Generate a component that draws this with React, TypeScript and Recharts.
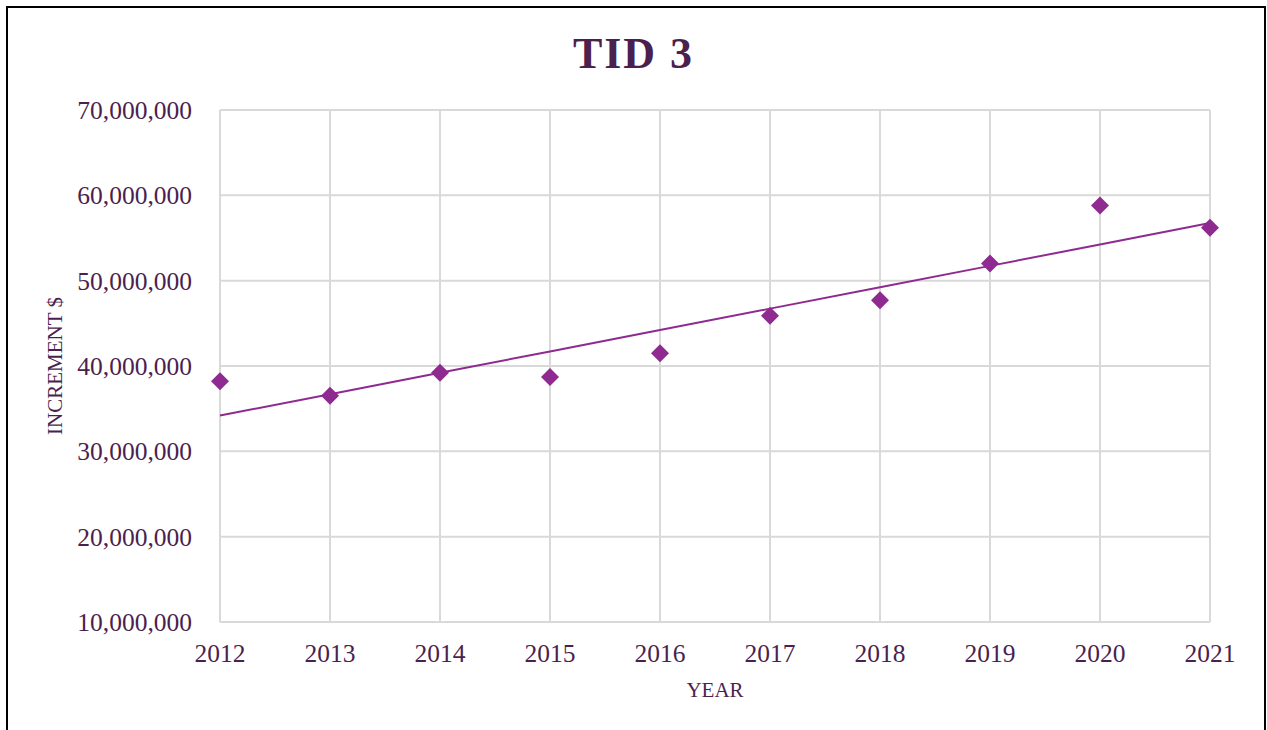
import { CartesianGrid, ComposedChart, Line, Scatter, XAxis, YAxis } from 'recharts'

const years = [2012, 2013, 2014, 2015, 2016, 2017, 2018, 2019, 2020, 2021]
const increment = [38.2, 36.5, 39.2, 38.7, 41.5, 45.9, 47.7, 52.0, 58.8, 56.2].map((v) => v * 1e6)
const yTicks = [10e6, 20e6, 30e6, 40e6, 50e6, 60e6, 70e6]

// linear trendline, least squares over the points (like Excel's)
const n = years.length
const mx = years.reduce((a, b) => a + b, 0) / n
const my = increment.reduce((a, b) => a + b, 0) / n
const slope =
  years.reduce((s, x, i) => s + (x - mx) * (increment[i] - my), 0) /
  years.reduce((s, x) => s + (x - mx) ** 2, 0)

const data = years.map((year, i) => ({
  year,
  value: increment[i],
  trend: my + slope * (year - mx),
}))

const purple = '#8e2a90'
const textColor = '#4b1f4e'
const font = '"Liberation Serif", serif'

const Diamond = (props: any) => {
  const { cx, cy } = props
  if (cx == null || cy == null) return null
  const r = 9
  return <path d={`M${cx},${cy - r}L${cx + r},${cy}L${cx},${cy + r}L${cx - r},${cy}Z`} fill={purple} />
}

export default function App() {
  return (
    <div style={{ position: 'fixed', left: 0, top: 0, width: 1267, height: 730, background: '#fff', fontFamily: font }}>
      <div
        style={{
          position: 'absolute',
          left: 6,
          top: 6,
          width: 1260,
          height: 740,
          boxSizing: 'border-box',
          border: '2px solid #000',
        }}
      />
      <div
        style={{
          position: 'absolute',
          left: 0,
          top: 32,
          width: 1267,
          textAlign: 'center',
          fontSize: 44,
          lineHeight: '44px',
          fontWeight: 'bold',
          letterSpacing: 2,
          color: textColor,
        }}
      >
        TID 3
      </div>
      <div style={{ position: 'absolute', left: 0, top: 0 }}>
        <ComposedChart width={1267} height={730} data={data} margin={{ top: 110, right: 57, left: 45, bottom: 28 }}>
          <CartesianGrid stroke="#d9d9d9" strokeWidth={2} />
          <XAxis
            dataKey="year"
            type="number"
            domain={[2012, 2021]}
            ticks={years}
            axisLine={false}
            tickLine={false}
            tickMargin={16}
            height={80}
            tick={{ fill: textColor, fontSize: 25.5, fontFamily: font }}
            label={{ value: 'YEAR', position: 'insideBottom', offset: 5, fill: textColor, fontSize: 21, fontFamily: font }}
          />
          <YAxis
            type="number"
            domain={[10e6, 70e6]}
            ticks={yTicks}
            axisLine={false}
            tickLine={false}
            tickMargin={22}
            width={175}
            tickFormatter={(v) => v.toLocaleString('en-US')}
            tick={{ fill: textColor, fontSize: 25.5, fontFamily: font }}
            label={{
              value: 'INCREMENT $',
              angle: -90,
              position: 'insideLeft',
              offset: 10,
              fill: textColor,
              fontSize: 21,
              fontFamily: font,
              style: { textAnchor: 'middle' },
            }}
          />
          <Line dataKey="trend" stroke={purple} strokeWidth={2} dot={false} activeDot={false} isAnimationActive={false} />
          <Scatter dataKey="value" shape={<Diamond />} isAnimationActive={false} />
        </ComposedChart>
      </div>
    </div>
  )
}
